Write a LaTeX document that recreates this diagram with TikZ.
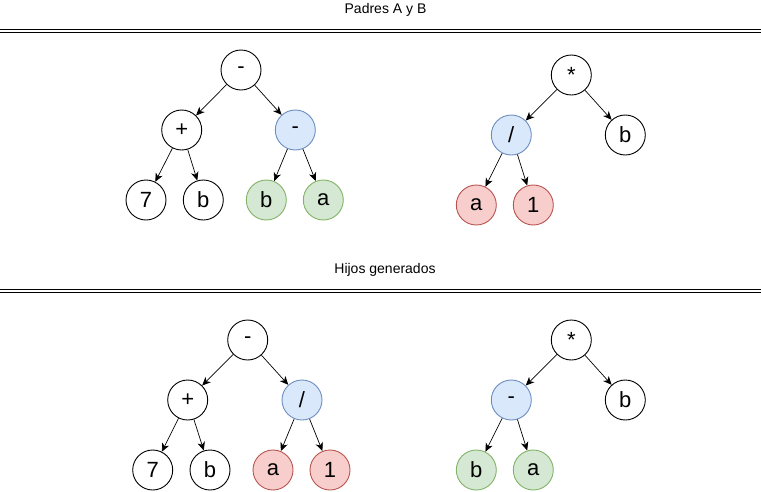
\documentclass[tikz,border=0pt]{standalone}
\usepackage{fontspec}
\setmainfont{Liberation Sans}
\usetikzlibrary{arrows.meta}
\definecolor{bluefill}{HTML}{DAE8FC}\definecolor{bluedraw}{HTML}{6C8EBF}
\definecolor{greenfill}{HTML}{D5E8D4}\definecolor{greendraw}{HTML}{82B366}
\definecolor{redfill}{HTML}{F8CECC}\definecolor{reddraw}{HTML}{B85450}
\begin{document}
\begin{tikzpicture}[x=1pt,y=-1pt,
  tn/.style={circle,draw=black,fill=white,line width=0.9pt,minimum size=40pt,inner sep=0pt,font=\fontsize{22}{25}\selectfont},
  bl/.style={tn,draw=bluedraw,fill=bluefill},
  gr/.style={tn,draw=greendraw,fill=greenfill},
  rd/.style={tn,draw=reddraw,fill=redfill},
  edge/.style={-{Stealth[length=8.5pt,width=7.5pt,inset=2.5pt]},line width=0.7pt},
  sep/.style={line width=1pt},
  title/.style={font=\fontsize{14}{16}\selectfont}]
\useasboundingbox (0,0) rectangle (761,491);
% titles and separators
\node[title] (t1) at (385.5,10) {Padres A y B};
\draw[sep] (0,29) -- (761,29);
\draw[sep] (0,32.5) -- (761,32.5);
\node[title] (t2) at (385,270) {Hijos generados};
\draw[sep] (0,289) -- (761,289);
\draw[sep] (0,292.5) -- (761,292.5);
% Parent A
\node[tn] (a0) at (241,70) {-};
\node[tn] (a1) at (181.7,130) {+};
\node[bl] (a2) at (295.3,130) {-};
\node[tn] (a3) at (146,200) {7};
\node[tn] (a4) at (203.3,200) {b};
\node[gr] (a5) at (266.3,200) {b};
\node[gr] (a6) at (323.3,200) {a};
\foreach \p/\c in {a0/a1,a0/a2,a1/a3,a1/a4,a2/a5,a2/a6} \draw[edge] (\p) -- (\c);
% Parent B
\node[tn] (b0) at (571.3,75) {*};
\node[bl] (b1) at (511.3,135) {/};
\node[tn] (b2) at (625.3,135) {b};
\node[rd] (b3) at (476.3,205) {a};
\node[rd] (b4) at (533.3,205) {1};
\foreach \p/\c in {b0/b1,b0/b2,b1/b3,b1/b4} \draw[edge] (\p) -- (\c);
% Child A
\node[tn] (c0) at (247.7,340) {-};
\node[tn] (c1) at (187.7,400) {+};
\node[bl] (c2) at (302,400) {/};
\node[tn] (c3) at (152.7,470) {7};
\node[tn] (c4) at (210,470) {b};
\node[rd] (c5) at (273,470) {a};
\node[rd] (c6) at (330,470) {1};
\foreach \p/\c in {c0/c1,c0/c2,c1/c3,c1/c4,c2/c5,c2/c6} \draw[edge] (\p) -- (\c);
% Child B
\node[tn] (d0) at (571.3,340) {*};
\node[bl] (d1) at (511.3,400) {-};
\node[tn] (d2) at (625.3,400) {b};
\node[gr] (d3) at (476.3,470) {b};
\node[gr] (d4) at (533.3,470) {a};
\foreach \p/\c in {d0/d1,d0/d2,d1/d3,d1/d4} \draw[edge] (\p) -- (\c);
\end{tikzpicture}
\end{document}
